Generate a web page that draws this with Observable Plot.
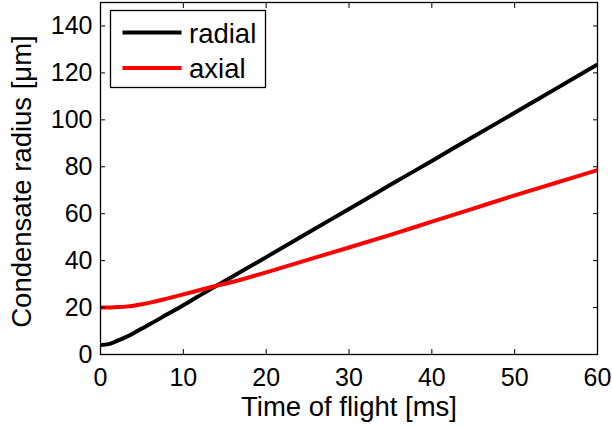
<!DOCTYPE html>
<html>
<head>
<meta charset="utf-8">
<script src="https://cdn.jsdelivr.net/npm/d3@7"></script>
<script src="https://cdn.jsdelivr.net/npm/@observablehq/plot@0.6"></script>
<style>
  body { margin: 0; background: #fff; }
  svg { display: block; }
</style>
</head>
<body>
<div id="chart"></div>
<script>
// Time of flight samples [ms]
const time   = [0, 1, 2, 3, 4, 5, 6, 8, 10, 12, 14, 16, 20, 25, 30, 35, 40, 45, 50, 55, 60];
// Condensate radius [µm] along each direction
const radial = [4.0, 4.4, 5.8, 7.3, 9.1, 11.1, 13.0, 17.0, 21.0, 25.2, 29.3, 33.3, 41.5, 51.8, 62.0, 72.3, 82.5, 92.8, 103.0, 113.3, 123.6];
const axial  = [20.0, 20.0, 20.2, 20.4, 20.8, 21.4, 22.1, 23.8, 25.6, 27.5, 29.3, 31.0, 35.0, 40.3, 45.6, 51.0, 56.6, 62.2, 67.8, 73.2, 78.6];

const seriesNames  = ["radial", "axial"];
const seriesColors = ["#000000", "#ff0000"];

const xTicks = [0, 10, 20, 30, 40, 50, 60];
const yTicks = [0, 20, 40, 60, 80, 100, 120, 140];

const xLabel = "Time of flight [ms]";
const yLabel = "Condensate radius [μm]";

const seriesValues = [radial, axial];
const rows = seriesNames.flatMap((name, k) =>
  time.map((t, i) => ({ t, r: seriesValues[k][i], series: name }))
);

const font = '"Liberation Sans", Arial, Helvetica, sans-serif';

const chart = Plot.plot({
  width: 612,
  height: 427,
  marginLeft: 100,
  marginRight: 15,
  marginTop: 2,
  marginBottom: 73,
  style: { fontFamily: font, background: "white", color: "black" },
  x: { domain: [0, 60] },
  y: { domain: [0, 150] },
  color: { domain: seriesNames, range: seriesColors },
  marks: [
    Plot.line(rows, {
      x: "t", y: "r", z: "series", stroke: "series",
      strokeWidth: 4, curve: "catmull-rom", strokeLinecap: "butt", clip: true
    }),
    Plot.frame({ stroke: "black", strokeWidth: 1.3 }),
    // inward ticks on all four sides, labels only bottom and left
    Plot.axisX({ anchor: "bottom", ticks: xTicks, tickSize: -5, tickPadding: 19, fontSize: 25, label: null }),
    Plot.axisX({ anchor: "top", ticks: xTicks, tickSize: -5, tickFormat: () => "", label: null }),
    Plot.axisY({ anchor: "left", ticks: yTicks, tickSize: -5, tickPadding: 13, fontSize: 25, label: null }),
    Plot.axisY({ anchor: "right", ticks: yTicks, tickSize: -5, tickFormat: () => "", label: null }),
    Plot.text([xLabel], { frameAnchor: "bottom", dy: 53, fontSize: 27.5, textAnchor: "middle", lineAnchor: "middle", text: d => d }),
    Plot.text([yLabel], { frameAnchor: "left", dx: -78, dy: 3, rotate: -90, fontSize: 27.5, textAnchor: "middle", lineAnchor: "middle", text: d => d })
  ]
});

// Legend box in the upper-left corner of the axes
const legend = d3.select(chart).append("g")
  .attr("font-family", font)
  .attr("font-size", 27.5)
  .attr("text-anchor", "start");
legend.append("rect")
  .attr("x", 110.5).attr("y", 10.5).attr("width", 155).attr("height", 77)
  .attr("fill", "white").attr("stroke", "black").attr("stroke-width", 1.3);
seriesNames.forEach((name, i) => {
  const y = 32.5 + i * 35.4;
  legend.append("line")
    .attr("x1", 122.5).attr("x2", 181.5).attr("y1", y).attr("y2", y)
    .attr("stroke", seriesColors[i]).attr("stroke-width", 4);
  legend.append("text")
    .attr("x", 189).attr("y", y + 10)
    .attr("fill", "black")
    .text(name);
});

document.getElementById("chart").append(chart);
</script>
</body>
</html>
